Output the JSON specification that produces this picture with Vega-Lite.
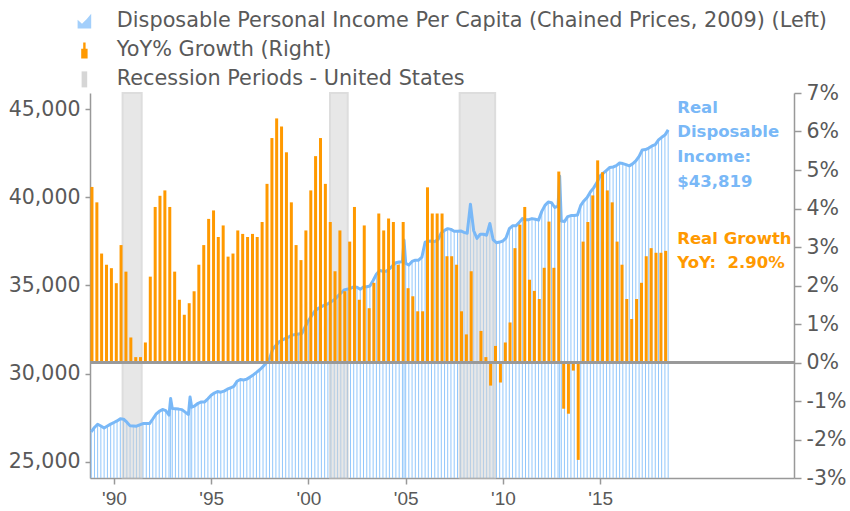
{
  "$schema": "https://vega.github.io/schema/vega-lite/v6.json",
  "width": 704,
  "height": 385,
  "autosize": {"type": "none"},
  "padding": {"left": 90, "top": 93, "right": 56, "bottom": 33},
  "background": "white",
  "config": {
    "view": {"stroke": null},
    "font": "DejaVu Sans",
    "scale": {"continuousPadding": 0},
    "axis": {"grid": false, "title": null, "domainColor": "#999999", "domainWidth": 1.5, "tickColor": "#999999", "tickWidth": 1.5, "labelColor": "#595959", "labelFont": "DejaVu Sans", "labelOverlap": false}
  },
  "datasets": {
    "inc": [
      {"d":"1988-11-01","v":26700},
      {"d":"1989-01-01","v":26950},{"d":"1989-03-01","v":27130},{"d":"1989-05-01","v":27030},{"d":"1989-07-01","v":26920},{"d":"1989-09-01","v":27030},{"d":"1989-11-01","v":27140},
      {"d":"1990-01-01","v":27230},{"d":"1990-03-01","v":27320},{"d":"1990-05-01","v":27440},{"d":"1990-07-01","v":27420},{"d":"1990-09-01","v":27250},{"d":"1990-11-01","v":27040},
      {"d":"1991-01-01","v":27030},{"d":"1991-03-01","v":27020},{"d":"1991-05-01","v":27100},{"d":"1991-07-01","v":27170},{"d":"1991-09-01","v":27180},{"d":"1991-11-01","v":27170},
      {"d":"1992-01-01","v":27430},{"d":"1992-03-01","v":27700},{"d":"1992-05-01","v":27860},{"d":"1992-07-01","v":27970},{"d":"1992-09-01","v":27900},{"d":"1992-11-01","v":27650},{"d":"1992-12-01","v":28590},
      {"d":"1993-01-01","v":28030},{"d":"1993-03-01","v":28010},{"d":"1993-05-01","v":27990},{"d":"1993-07-01","v":27960},{"d":"1993-09-01","v":27820},{"d":"1993-11-01","v":27690},{"d":"1993-12-01","v":28680},
      {"d":"1994-01-01","v":28100},{"d":"1994-03-01","v":28180},{"d":"1994-05-01","v":28320},{"d":"1994-07-01","v":28400},{"d":"1994-09-01","v":28400},{"d":"1994-11-01","v":28580},
      {"d":"1995-01-01","v":28780},{"d":"1995-03-01","v":28900},{"d":"1995-05-01","v":28990},{"d":"1995-07-01","v":28950},{"d":"1995-09-01","v":29010},{"d":"1995-11-01","v":29120},
      {"d":"1996-01-01","v":29200},{"d":"1996-03-01","v":29280},{"d":"1996-05-01","v":29570},{"d":"1996-07-01","v":29670},{"d":"1996-09-01","v":29645},{"d":"1996-11-01","v":29690},
      {"d":"1997-01-01","v":29810},{"d":"1997-03-01","v":29930},{"d":"1997-05-01","v":30070},{"d":"1997-07-01","v":30220},{"d":"1997-09-01","v":30400},{"d":"1997-11-01","v":30600},
      {"d":"1998-01-01","v":30850},{"d":"1998-03-01","v":31380},{"d":"1998-05-01","v":31600},{"d":"1998-07-01","v":31810},{"d":"1998-09-01","v":31910},{"d":"1998-11-01","v":32000},
      {"d":"1999-01-01","v":32090},{"d":"1999-03-01","v":32185},{"d":"1999-05-01","v":32215},{"d":"1999-07-01","v":32245},{"d":"1999-09-01","v":32275},{"d":"1999-11-01","v":32650},
      {"d":"2000-01-01","v":33000},{"d":"2000-03-01","v":33275},{"d":"2000-05-01","v":33550},{"d":"2000-07-01","v":33690},{"d":"2000-09-01","v":33800},{"d":"2000-11-01","v":33890},
      {"d":"2001-01-01","v":33960},{"d":"2001-03-01","v":34070},{"d":"2001-05-01","v":34190},{"d":"2001-07-01","v":34380},{"d":"2001-09-01","v":34560},{"d":"2001-11-01","v":34740},
      {"d":"2002-01-01","v":34790},{"d":"2002-03-01","v":34830},{"d":"2002-05-01","v":34920},{"d":"2002-07-01","v":34900},{"d":"2002-09-01","v":34780},{"d":"2002-11-01","v":34920},
      {"d":"2003-01-01","v":34930},{"d":"2003-03-01","v":34970},{"d":"2003-05-01","v":35280},{"d":"2003-07-01","v":35640},{"d":"2003-09-01","v":35850},{"d":"2003-11-01","v":35810},
      {"d":"2004-01-01","v":35810},{"d":"2004-03-01","v":35940},{"d":"2004-05-01","v":36120},{"d":"2004-07-01","v":36290},{"d":"2004-09-01","v":36330},{"d":"2004-11-01","v":36350},{"d":"2004-12-01","v":37570},
      {"d":"2005-01-01","v":36250},{"d":"2005-03-01","v":36160},{"d":"2005-05-01","v":36360},{"d":"2005-07-01","v":36435},{"d":"2005-09-01","v":36435},{"d":"2005-11-01","v":36600},
      {"d":"2006-01-01","v":37450},{"d":"2006-03-01","v":37510},{"d":"2006-05-01","v":37520},{"d":"2006-07-01","v":37490},{"d":"2006-09-01","v":37600},{"d":"2006-11-01","v":37980},
      {"d":"2007-01-01","v":38120},{"d":"2007-03-01","v":38220},{"d":"2007-05-01","v":38180},{"d":"2007-07-01","v":38070},{"d":"2007-09-01","v":38070},{"d":"2007-11-01","v":38090},
      {"d":"2008-01-01","v":38010},{"d":"2008-03-01","v":37960},{"d":"2008-05-01","v":39610},{"d":"2008-07-01","v":38100},{"d":"2008-09-01","v":37670},{"d":"2008-11-01","v":37900},
      {"d":"2009-01-01","v":37900},{"d":"2009-03-01","v":37850},{"d":"2009-05-01","v":38516},{"d":"2009-07-01","v":37600},{"d":"2009-09-01","v":37420},{"d":"2009-11-01","v":37460},
      {"d":"2010-01-01","v":37520},{"d":"2010-03-01","v":37700},{"d":"2010-05-01","v":38220},{"d":"2010-07-01","v":38380},{"d":"2010-09-01","v":38380},{"d":"2010-11-01","v":38560},
      {"d":"2011-01-01","v":38790},{"d":"2011-03-01","v":38730},{"d":"2011-05-01","v":38730},{"d":"2011-07-01","v":38790},{"d":"2011-09-01","v":38750},{"d":"2011-11-01","v":38703},
      {"d":"2012-01-01","v":39200},{"d":"2012-03-01","v":39540},{"d":"2012-05-01","v":39730},{"d":"2012-07-01","v":39690},{"d":"2012-09-01","v":39420},{"d":"2012-11-01","v":39500},{"d":"2012-12-01","v":41200},
      {"d":"2013-01-01","v":38650},{"d":"2013-03-01","v":38620},{"d":"2013-05-01","v":38900},{"d":"2013-07-01","v":38960},{"d":"2013-09-01","v":38970},{"d":"2013-11-01","v":39000},
      {"d":"2014-01-01","v":39540},{"d":"2014-03-01","v":39790},{"d":"2014-05-01","v":39990},{"d":"2014-07-01","v":40300},{"d":"2014-09-01","v":40530},{"d":"2014-11-01","v":40830},
      {"d":"2015-01-01","v":41210},{"d":"2015-03-01","v":41370},{"d":"2015-05-01","v":41530},{"d":"2015-07-01","v":41690},{"d":"2015-09-01","v":41715},{"d":"2015-11-01","v":41790},
      {"d":"2016-01-01","v":41940},{"d":"2016-03-01","v":41910},{"d":"2016-05-01","v":41845},{"d":"2016-07-01","v":41780},{"d":"2016-09-01","v":41890},{"d":"2016-11-01","v":42060},
      {"d":"2017-01-01","v":42320},{"d":"2017-03-01","v":42680},{"d":"2017-05-01","v":42705},{"d":"2017-07-01","v":42790},{"d":"2017-09-01","v":42910},{"d":"2017-11-01","v":42985},
      {"d":"2018-01-01","v":43250},{"d":"2018-03-01","v":43400},{"d":"2018-05-01","v":43523},{"d":"2018-07-01","v":43819}
    ],
    "yoy": [
      {"d":"1988-11-15","g":4.56},
      {"d":"1989-02-15","g":4.16},{"d":"1989-05-15","g":2.83},{"d":"1989-08-15","g":2.54},{"d":"1989-11-15","g":2.45},
      {"d":"1990-02-15","g":2.06},{"d":"1990-05-15","g":3.05},{"d":"1990-08-15","g":2.36},{"d":"1990-11-15","g":0.65},
      {"d":"1991-02-15","g":0.14},{"d":"1991-05-15","g":0.14},{"d":"1991-08-15","g":0.52},{"d":"1991-11-15","g":2.23},
      {"d":"1992-02-15","g":4.04},{"d":"1992-05-15","g":4.33},{"d":"1992-08-15","g":4.47},{"d":"1992-11-15","g":4.04},
      {"d":"1993-02-15","g":2.36},{"d":"1993-05-15","g":1.63},{"d":"1993-08-15","g":1.24},{"d":"1993-11-15","g":1.54},
      {"d":"1994-02-15","g":1.85},{"d":"1994-05-15","g":2.54},{"d":"1994-08-15","g":3.05},{"d":"1994-11-15","g":3.73},
      {"d":"1995-02-15","g":3.95},{"d":"1995-05-15","g":3.26},{"d":"1995-08-15","g":3.56},{"d":"1995-11-15","g":2.75},
      {"d":"1996-02-15","g":2.83},{"d":"1996-05-15","g":3.43},{"d":"1996-08-15","g":3.34},{"d":"1996-11-15","g":3.26},
      {"d":"1997-02-15","g":3.34},{"d":"1997-05-15","g":3.26},{"d":"1997-08-15","g":3.65},{"d":"1997-11-15","g":4.64},
      {"d":"1998-02-15","g":5.83},{"d":"1998-05-15","g":6.34},{"d":"1998-08-15","g":6.13},{"d":"1998-11-15","g":5.46},
      {"d":"1999-02-15","g":4.16},{"d":"1999-05-15","g":3.05},{"d":"1999-08-15","g":2.66},{"d":"1999-11-15","g":3.43},
      {"d":"2000-02-15","g":4.47},{"d":"2000-05-15","g":5.36},{"d":"2000-08-15","g":5.83},{"d":"2000-11-15","g":4.64},
      {"d":"2001-02-15","g":3.65},{"d":"2001-05-15","g":2.37},{"d":"2001-08-15","g":3.43},{"d":"2001-11-15","g":1.85},
      {"d":"2002-02-15","g":3.14},{"d":"2002-05-15","g":4.04},{"d":"2002-08-15","g":1.63},{"d":"2002-11-15","g":3.56},
      {"d":"2003-02-15","g":1.41},{"d":"2003-05-15","g":2.07},{"d":"2003-08-15","g":3.87},{"d":"2003-11-15","g":3.43},
      {"d":"2004-02-15","g":3.74},{"d":"2004-05-15","g":3.65},{"d":"2004-08-15","g":2.54},{"d":"2004-11-15","g":3.65},
      {"d":"2005-02-15","g":1.93},{"d":"2005-05-15","g":1.72},{"d":"2005-08-15","g":1.33},{"d":"2005-11-15","g":1.33},
      {"d":"2006-02-15","g":4.55},{"d":"2006-05-15","g":3.87},{"d":"2006-08-15","g":3.87},{"d":"2006-11-15","g":3.87},
      {"d":"2007-02-15","g":2.76},{"d":"2007-05-15","g":2.76},{"d":"2007-08-15","g":2.54},{"d":"2007-11-15","g":1.33},
      {"d":"2008-02-15","g":0.73},{"d":"2008-05-15","g":2.37},{"d":"2008-08-15","g":0.0},{"d":"2008-11-15","g":0.82},
      {"d":"2009-02-15","g":0.14},{"d":"2009-05-15","g":-0.6},{"d":"2009-08-15","g":0.43},{"d":"2009-11-15","g":-0.52},
      {"d":"2010-02-15","g":0.52},{"d":"2010-05-15","g":1.04},{"d":"2010-08-15","g":2.97},{"d":"2010-11-15","g":3.58},
      {"d":"2011-02-15","g":4.04},{"d":"2011-05-15","g":2.15},{"d":"2011-08-15","g":1.86},{"d":"2011-11-15","g":1.65},
      {"d":"2012-02-15","g":2.46},{"d":"2012-05-15","g":3.66},{"d":"2012-08-15","g":2.46},{"d":"2012-11-15","g":4.96},
      {"d":"2013-02-15","g":-1.2},{"d":"2013-05-15","g":-1.33},{"d":"2013-08-15","g":-0.21},{"d":"2013-11-15","g":-2.53},
      {"d":"2014-02-15","g":3.14},{"d":"2014-05-15","g":3.65},{"d":"2014-08-15","g":4.34},{"d":"2014-11-15","g":5.25},
      {"d":"2015-02-15","g":4.94},{"d":"2015-05-15","g":4.47},{"d":"2015-08-15","g":4.16},{"d":"2015-11-15","g":3.14},
      {"d":"2016-02-15","g":2.54},{"d":"2016-05-15","g":1.65},{"d":"2016-08-15","g":1.13},{"d":"2016-11-15","g":1.65},
      {"d":"2017-02-15","g":2.07},{"d":"2017-05-15","g":2.76},{"d":"2017-08-15","g":2.97},{"d":"2017-11-15","g":2.85},
      {"d":"2018-02-15","g":2.85},{"d":"2018-05-15","g":2.9}
    ],
    "rec": [
      {"s":"1990-06-13","e":"1991-06-06"},
      {"s":"2001-02-10","e":"2002-01-08"},
      {"s":"2007-10-12","e":"2009-08-08"}
    ],
    "leg": [
      {"k":"Disposable Personal Income Per Capita (Chained Prices, 2009) (Left)"},
      {"k":"YoY% Growth (Right)"},
      {"k":"Recession Periods - United States"}
    ],
    "noteL": [{"d":"2018-12-18","v":45540,"label":"Real\nDisposable\nIncome:\n$43,819"}],
    "noteR": [{"d":"2018-12-18","g":3.42,"label":"Real Growth\nYoY:\u00a0 2.90%"}]
  },
  "layer": [
    {
      "layer": [
        {
          "data": {"name": "inc"},
          "mark": {"type": "rule", "color": "#92c7fb", "strokeWidth": 1},
          "encoding": {
            "x": {"field": "d", "type": "temporal",
              "scale": {"domain": [{"year": 1988, "month": 10, "date": 9}, {"year": 2024, "month": 12, "date": 19}], "nice": false, "padding": 0},
              "axis": {"values": [{"year":1990,"month":1,"date":1},{"year":1995,"month":1,"date":1},{"year":2000,"month":1,"date":1},{"year":2005,"month":1,"date":1},{"year":2010,"month":1,"date":1},{"year":2015,"month":1,"date":1}],
                "format": "'%y", "labelFont": "Liberation Sans", "labelFontSize": 19, "tickSize": 6, "labelPadding": 5, "labelFlush": false}},
            "y": {"field": "v", "type": "quantitative",
              "scale": {"domain": [24085, 45910], "zero": false, "nice": false},
              "axis": {"orient": "left", "values": [25000, 30000, 35000, 40000, 45000], "format": ",.0f", "labelFontSize": 20.5, "tickSize": 5, "labelPadding": 5, "labelOverlap": false}},
            "y2": {"datum": 24085}
          }
        },
        {
          "data": {"name": "rec"},
          "mark": {"type": "rect", "opacity": 0.55, "color": "#d4d4d4", "stroke": "#c2c2c2", "strokeWidth": 2},
          "encoding": {
            "x": {"field": "s", "type": "temporal"},
            "x2": {"field": "e"}
          }
        },
        {
          "data": {"name": "inc"},
          "mark": {"type": "line", "color": "#79b8f7", "strokeWidth": 3, "strokeJoin": "round"},
          "encoding": {
            "x": {"field": "d", "type": "temporal"},
            "y": {"field": "v", "type": "quantitative"}
          }
        },
        {
          "data": {"name": "noteL"},
          "mark": {"type": "text", "align": "left", "baseline": "top", "fontSize": 16.5, "fontWeight": "bold", "color": "#79b8f7", "lineBreak": "\n", "lineHeight": 24.7, "font": "DejaVu Sans"},
          "encoding": {
            "x": {"field": "d", "type": "temporal"},
            "y": {"field": "v", "type": "quantitative"},
            "text": {"field": "label"}
          }
        },
        {
          "data": {"name": "leg"},
          "mark": {"type": "point", "filled": true, "opacity": 0, "size": 256, "strokeWidth": 0},
          "encoding": {
            "color": {"field": "k", "type": "nominal",
              "scale": {"domain": ["Disposable Personal Income Per Capita (Chained Prices, 2009) (Left)", "YoY% Growth (Right)", "Recession Periods - United States"], "range": ["#a3cffb", "#ff9900", "#d6d6d6"]},
              "legend": {"orient": "none", "legendX": -16, "legendY": -82, "title": null, "padding": 0,
                "labelFontSize": 20.8, "labelColor": "#595959", "labelFont": "DejaVu Sans", "labelLimit": 900,
                "symbolSize": 256, "labelOffset": 22, "rowPadding": 7, "symbolOpacity": 1, "symbolStrokeWidth": 0}},
            "shape": {"field": "k", "type": "nominal",
              "scale": {"domain": ["Disposable Personal Income Per Capita (Chained Prices, 2009) (Left)", "YoY% Growth (Right)", "Recession Periods - United States"],
                "range": ["M-0.85,-0.2L-0.3,0.3L0.3,-0.3L0.85,-0.95V0.9H-0.85Z", "M-0.15,-1H0.15V-0.2H0.4V1H-0.4V-0.2H-0.15Z", "M-0.35,-1H0.35V1H-0.35Z"]},
              "legend": {"orient": "none", "legendX": -16, "legendY": -82, "title": null, "padding": 0,
                "labelFontSize": 20.8, "labelColor": "#595959", "labelFont": "DejaVu Sans", "labelLimit": 900,
                "symbolSize": 256, "labelOffset": 22, "rowPadding": 7, "symbolOpacity": 1, "symbolStrokeWidth": 0}}
          }
        }
      ]
    },
    {
      "layer": [
        {
          "data": {"name": "yoy"},
          "mark": {"type": "bar", "color": "#ff9900", "width": 3},
          "encoding": {
            "x": {"field": "d", "type": "temporal"},
            "y": {"field": "g", "type": "quantitative",
              "scale": {"domain": [-3, 7], "nice": false},
              "axis": {"orient": "right", "values": [-3,-2,-1,0,1,2,3,4,5,6,7], "tickCount": 11, "labelExpr": "datum.value + '%'", "labelFontSize": 20.5, "tickSize": 7, "labelPadding": 5, "labelOverlap": false, "labelColor": "#595959"}}
          }
        },
        {
          "data": {"name": "yoy"},
          "mark": {"type": "rule", "color": "#999999", "strokeWidth": 2},
          "encoding": {"y": {"datum": 0, "type": "quantitative"}}
        },
        {
          "data": {"name": "noteR"},
          "mark": {"type": "text", "align": "left", "baseline": "top", "fontSize": 16.5, "fontWeight": "bold", "color": "#ff9900", "lineBreak": "\n", "lineHeight": 24.4, "font": "DejaVu Sans"},
          "encoding": {
            "x": {"field": "d", "type": "temporal"},
            "y": {"field": "g", "type": "quantitative"},
            "text": {"field": "label"}
          }
        }
      ]
    }
  ],
  "resolve": {"scale": {"y": "independent"}, "axis": {"y": "independent"}}
}
